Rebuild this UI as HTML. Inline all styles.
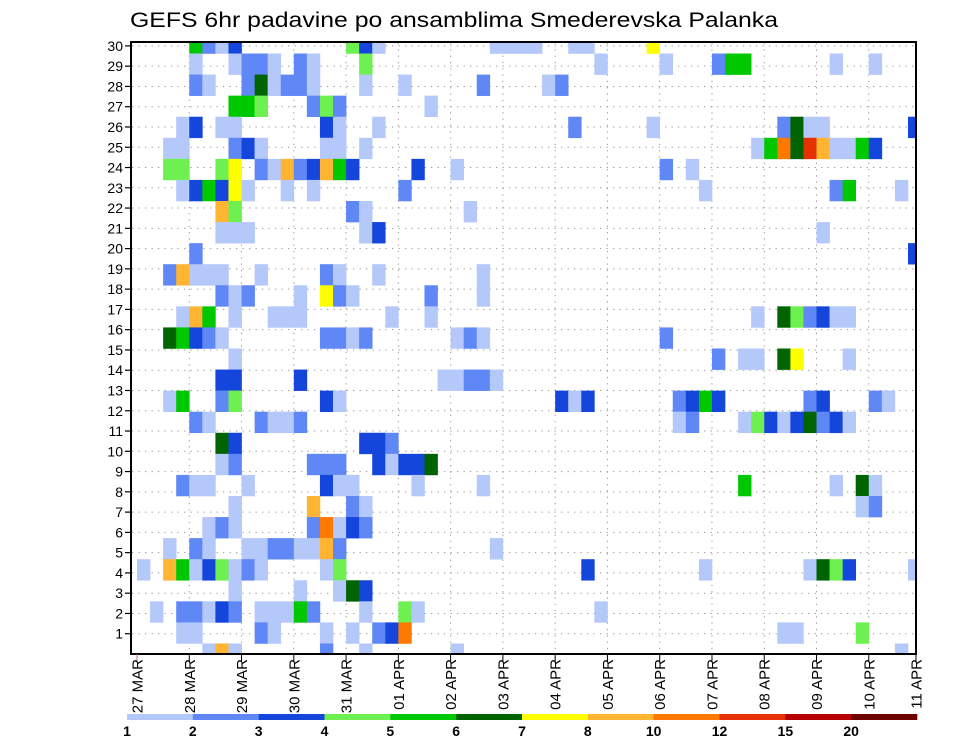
<!DOCTYPE html>
<html><head><meta charset="utf-8">
<style>
html,body{margin:0;padding:0;background:#fff;}
svg{display:block;font-family:"Liberation Sans","DejaVu Sans",sans-serif;}
</style></head>
<body>
<svg id="chart" width="960" height="742" viewBox="0 0 960 742" xmlns="http://www.w3.org/2000/svg">
<text x="130" y="27" font-size="21" textLength="648" lengthAdjust="spacingAndGlyphs" fill="#000">GEFS 6hr padavine po ansamblima Smederevska Palanka</text>
<defs><clipPath id="plotclip"><rect x="131" y="42" width="785" height="612"/></clipPath></defs>
<g id="grid"></g>
<g id="cells" clip-path="url(#plotclip)"></g>
<rect x="131" y="42" width="785" height="612" fill="none" stroke="#000" stroke-width="2"/>
<g id="yaxis"></g>
<g id="xaxis"></g>
<g id="legend"></g>
</svg>
<script>
// ---- data ----
const dayLabels = ["27 MAR","28 MAR","29 MAR","30 MAR","31 MAR","01 APR","02 APR","03 APR","04 APR","05 APR","06 APR","07 APR","08 APR","09 APR","10 APR","11 APR"];
const memberTicks = [1,2,3,4,5,6,7,8,9,10,11,12,13,14,15,16,17,18,19,20,21,22,23,24,25,26,27,28,29,30];
const levels = [1,2,3,4,5,6,7,8,10,12,15,20];
const levelColors = ["#b4c8fa","#5f87f5","#1446dc","#6ef050","#00c800","#006400","#ffff00","#ffb432","#ff7800","#e63200","#b40000","#6e0000"];
// cells: [member band, 6-hour step, precipitation mm]
const cells = [
[29,4,5.5],[29,5,2.5],[29,6,1.5],[29,7,3.5],[29,16,4.5],[29,17,3.5],[29,18,1.5],[29,27,1.5],[29,28,1.5],[29,29,1.5],[29,30,1.5],[29,33,1.5],[29,34,1.5],[29,39,7.5],
[28,4,1.5],[28,7,1.5],[28,8,2.5],[28,9,2.5],[28,10,1.5],[28,12,2.5],[28,13,1.5],[28,17,4.5],[28,35,1.5],[28,40,1.5],[28,44,2.5],[28,45,5.5],[28,46,5.5],[28,53,1.5],[28,56,1.5],
[27,4,2.5],[27,5,1.5],[27,8,2.5],[27,9,6.5],[27,10,1.5],[27,11,2.5],[27,12,2.5],[27,13,1.5],[27,17,1.5],[27,20,1.5],[27,26,2.5],[27,31,1.5],[27,32,2.5],
[26,7,5.5],[26,8,5.5],[26,9,4.5],[26,13,2.5],[26,14,4.5],[26,15,2.5],[26,22,1.5],
[25,3,1.5],[25,4,3.5],[25,6,1.5],[25,7,1.5],[25,14,3.5],[25,15,1.5],[25,18,1.5],[25,33,2.5],[25,39,1.5],[25,49,2.5],[25,50,6.5],[25,51,1.5],[25,52,1.5],[25,59,3.5],
[24,2,1.5],[24,3,1.5],[24,7,2.5],[24,8,3.5],[24,9,1.5],[24,14,1.5],[24,15,1.5],[24,17,1.5],[24,47,1.5],[24,48,5.5],[24,49,11],[24,50,6.5],[24,51,13.5],[24,52,9],[24,53,1.5],[24,54,1.5],[24,55,5.5],[24,56,3.5],
[23,2,4.5],[23,3,4.5],[23,6,4.5],[23,7,7.5],[23,9,2.5],[23,10,1.5],[23,11,9],[23,12,2.5],[23,13,3.5],[23,14,9],[23,15,5.5],[23,16,3.5],[23,21,3.5],[23,24,1.5],[23,40,2.5],[23,42,1.5],
[22,3,1.5],[22,4,3.5],[22,5,5.5],[22,6,3.5],[22,7,7.5],[22,8,1.5],[22,11,1.5],[22,13,1.5],[22,20,2.5],[22,43,1.5],[22,53,2.5],[22,54,5.5],[22,58,1.5],
[21,6,9],[21,7,4.5],[21,16,2.5],[21,17,1.5],[21,25,1.5],
[20,6,1.5],[20,7,1.5],[20,8,1.5],[20,17,1.5],[20,18,3.5],[20,52,1.5],
[19,4,2.5],[19,59,3.5],
[18,2,2.5],[18,3,9],[18,4,1.5],[18,5,1.5],[18,6,1.5],[18,9,1.5],[18,14,2.5],[18,15,1.5],[18,18,1.5],[18,26,1.5],
[17,6,2.5],[17,7,1.5],[17,8,2.5],[17,12,1.5],[17,14,7.5],[17,15,2.5],[17,16,1.5],[17,22,2.5],[17,26,1.5],
[16,3,1.5],[16,4,9],[16,5,5.5],[16,7,1.5],[16,10,1.5],[16,11,1.5],[16,12,1.5],[16,19,1.5],[16,22,1.5],[16,47,1.5],[16,49,6.5],[16,50,4.5],[16,51,2.5],[16,52,3.5],[16,53,1.5],[16,54,1.5],
[15,2,6.5],[15,3,5.5],[15,4,3.5],[15,5,2.5],[15,6,1.5],[15,14,2.5],[15,15,2.5],[15,16,1.5],[15,17,2.5],[15,24,1.5],[15,25,2.5],[15,26,1.5],[15,40,2.5],
[14,7,1.5],[14,44,2.5],[14,46,1.5],[14,47,1.5],[14,49,6.5],[14,50,7.5],[14,54,1.5],
[13,6,3.5],[13,7,3.5],[13,12,3.5],[13,23,1.5],[13,24,1.5],[13,25,2.5],[13,26,2.5],[13,27,1.5],
[12,2,1.5],[12,3,5.5],[12,6,2.5],[12,7,4.5],[12,14,3.5],[12,15,1.5],[12,32,3.5],[12,33,1.5],[12,34,3.5],[12,41,2.5],[12,42,3.5],[12,43,5.5],[12,44,3.5],[12,51,2.5],[12,52,3.5],[12,56,2.5],[12,57,1.5],
[11,4,2.5],[11,5,1.5],[11,9,2.5],[11,10,1.5],[11,11,1.5],[11,12,2.5],[11,41,1.5],[11,42,2.5],[11,46,1.5],[11,47,4.5],[11,48,3.5],[11,49,1.5],[11,50,3.5],[11,51,6.5],[11,52,2.5],[11,53,3.5],[11,54,1.5],
[10,6,6.5],[10,7,3.5],[10,17,3.5],[10,18,3.5],[10,19,2.5],
[9,6,1.5],[9,7,2.5],[9,13,2.5],[9,14,2.5],[9,15,2.5],[9,18,3.5],[9,19,1.5],[9,20,3.5],[9,21,3.5],[9,22,6.5],
[8,3,2.5],[8,4,1.5],[8,5,1.5],[8,8,1.5],[8,14,3.5],[8,15,1.5],[8,16,1.5],[8,21,1.5],[8,26,1.5],[8,46,5.5],[8,53,1.5],[8,55,6.5],[8,56,1.5],
[7,7,1.5],[7,13,9],[7,16,2.5],[7,17,1.5],[7,55,1.5],[7,56,2.5],
[6,5,1.5],[6,6,2.5],[6,7,1.5],[6,13,2.5],[6,14,11],[6,15,1.5],[6,16,3.5],[6,17,2.5],
[5,2,1.5],[5,4,2.5],[5,5,1.5],[5,8,1.5],[5,9,1.5],[5,10,2.5],[5,11,2.5],[5,12,1.5],[5,13,1.5],[5,14,9],[5,15,2.5],[5,27,1.5],
[4,0,1.5],[4,2,9],[4,3,5.5],[4,4,1.5],[4,5,3.5],[4,6,4.5],[4,7,1.5],[4,8,2.5],[4,9,1.5],[4,14,1.5],[4,15,4.5],[4,34,3.5],[4,43,1.5],[4,51,1.5],[4,52,6.5],[4,53,4.5],[4,54,3.5],[4,59,1.5],
[3,7,1.5],[3,12,1.5],[3,15,1.5],[3,16,6.5],[3,17,3.5],
[2,1,1.5],[2,3,2.5],[2,4,2.5],[2,5,1.5],[2,6,3.5],[2,7,2.5],[2,9,1.5],[2,10,1.5],[2,11,1.5],[2,12,5.5],[2,13,2.5],[2,17,1.5],[2,20,4.5],[2,21,1.5],[2,35,1.5],
[1,3,1.5],[1,4,1.5],[1,9,2.5],[1,10,1.5],[1,14,1.5],[1,16,1.5],[1,18,2.5],[1,19,3.5],[1,20,11],[1,49,1.5],[1,50,1.5],[1,55,4.5],
[0,5,1.5],[0,6,9],[0,7,1.5],[0,14,2.5],[0,17,1.5],[0,24,1.5],[0,58,1.5]
];

// ---- scales ----
const NS="http://www.w3.org/2000/svg";
const X0=137, DAY=52.27, STEP=DAY/4;
function xStep(s){return X0+s*STEP;}
function xDay(d){return X0+d*DAY;}
const BAND=21.07;
function yBand(b){return 654-b*BAND;}          // band center
function yTick(n){return 654-n*20.27;}         // y-axis label position
function colorFor(v){let c=null;for(let i=0;i<levels.length;i++){if(v>=levels[i])c=levelColors[i];}return c;}
function mk(tag,attrs,parent){const e=document.createElementNS(NS,tag);for(const k in attrs)e.setAttribute(k,attrs[k]);parent.appendChild(e);return e;}

// ---- grid ----
const grid=document.getElementById('grid');
memberTicks.forEach(n=>{
  const l=mk('line',{x1:132,x2:915,y1:yTick(n),y2:yTick(n),stroke:'#999','stroke-width':1,'stroke-dasharray':'1.3,5.2'},grid);
  
  
});
for(let d=1;d<dayLabels.length-1;d++){
  const l=mk('line',{x1:xDay(d),x2:xDay(d),y1:43,y2:653,stroke:'#999','stroke-width':1,'stroke-dasharray':'1.3,5'},grid);
  
  
}

// ---- cells ----
const cg=document.getElementById('cells');
cells.forEach(c=>{
  const col=colorFor(c[2]); if(!col) return;
  const r=mk('rect',{x:xStep(c[1]),y:yBand(c[0])-BAND/2,width:STEP+0.3,height:BAND+0.3,fill:col},cg);
  
  
});

// ---- y axis ----
const ya=document.getElementById('yaxis');
memberTicks.forEach(n=>{
  const t=mk('line',{x1:125,x2:131,y1:yTick(n),y2:yTick(n),stroke:'#000','stroke-width':1.2},ya);
  
  
  const tx=mk('text',{x:123,y:yTick(n)+5,'font-size':14,'text-anchor':'end',fill:'#000'},ya);
  tx.textContent=n;
  
  
});

// ---- x axis ----
const xa=document.getElementById('xaxis');
dayLabels.forEach((lab,d)=>{
  const x=Math.min(xDay(d),916);
  const t=mk('line',{x1:x,x2:x,y1:654,y2:662,stroke:d===0?'#c66':'#000','stroke-width':1},xa);
  
  
  const tx=mk('text',{transform:`translate(${x+5.5},659) rotate(-90)`,'font-size':15,'text-anchor':'end',fill:'#000'},xa);
  tx.textContent=lab;
  
  
});

// ---- legend ----
const lg=document.getElementById('legend');
const LX=127, LW=(917-127)/levels.length;
levelColors.forEach((col,i)=>{
  const r=mk('rect',{x:LX+i*LW,y:714,width:LW+0.3,height:6,fill:col},lg);
  
  
});
levels.forEach((v,i)=>{
  const t=mk('text',{x:LX+i*LW,y:736,'font-size':14,'font-weight':'bold','text-anchor':'middle',fill:'#000'},lg);
  t.textContent=v;
  
  
});
</script>
</body></html>
